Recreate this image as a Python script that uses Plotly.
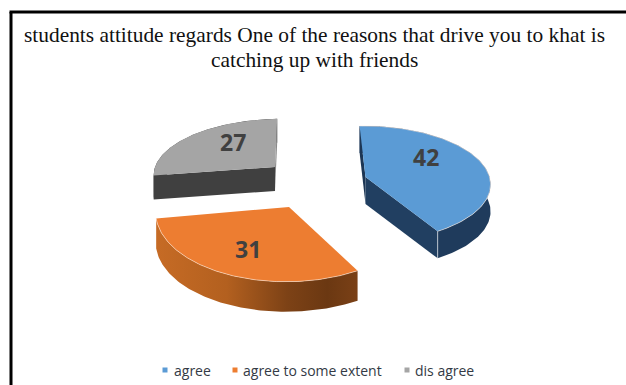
import numpy as np
import plotly.graph_objects as go

title_lines = ["students attitude regards One of the reasons that drive you to khat is",
               "catching up with friends"]
categories = ["agree", "agree to some extent", "dis agree"]
values = [42, 31, 27]
colors = ["#5b9bd5", "#ed7d31", "#a5a5a5"]

START_DEG = -2
# projection of each exploded slice onto the page
views = [
    dict(cx=365.5, cy=177, a=124, k=57, p=0.115, skew=2, d=27, wall="#1f3b5c", cut_end="#213f61", cut_start="#1d3654"),
    dict(cx=289, cy=207, a=133, k=71, p=0.05, skew=-3, d=30, wall=None, cut_end=None, cut_start=None),
    dict(cx=275, cy=167, a=120, k=53, p=0.1, skew=-6, d=24, wall="#404040", cut_end="#8a8a8a", cut_start="#404040"),
]
label_pos = [(426, 157), (248, 249), (233, 142)]
legend_marker_x = [165, 235, 407]
legend_text_x = [172, 241, 413]
LEGEND_Y = 370


def project(theta, v):
    X, Y = np.sin(theta), -np.cos(theta)
    f = 1 / (1 - v["p"] * Y)
    return v["cx"] + v["a"] * X * f + v["skew"] * Y, v["cy"] + v["k"] * Y * f


def poly(x, y, color, **kw):
    return go.Scatter(x=list(x), y=list(y), mode="lines", fill="toself", fillcolor=color,
                      line=dict(width=0, color=color), hoverinfo="skip", showlegend=False, **kw)


fig = go.Figure()
total = sum(values)
edges = START_DEG + np.cumsum([0] + values) / total * 360

order = [2, 0, 1]
for i in order:
    v = views[i]
    th = np.radians(np.linspace(edges[i], edges[i + 1], 120))
    x, y = project(th, v)
    # outer wall
    wx = np.r_[x, x[::-1]]
    wy = np.r_[y, y[::-1] + v["d"]]
    if v["wall"]:
        fig.add_trace(poly(wx, wy, v["wall"]))
    else:
        fig.add_trace(go.Scatter(x=list(wx), y=list(wy), mode="lines", fill="toself",
                                 line=dict(width=0), hoverinfo="skip", showlegend=False,
                                 fillgradient=dict(type="horizontal", colorscale=[
                                     [0, "#c66b25"], [0.35, "#b3601f"], [0.65, "#7d4216"],
                                     [0.85, "#6b3812"], [1, "#7a4016"]])))
    # flat cut faces
    if v["cut_start"]:
        fig.add_trace(poly([v["cx"], x[0], x[0], v["cx"]],
                           [v["cy"], y[0], y[0] + v["d"], v["cy"] + v["d"]], v["cut_start"]))
    if v["cut_end"]:
        fig.add_trace(poly([v["cx"], x[-1], x[-1], v["cx"]],
                           [v["cy"], y[-1], y[-1] + v["d"], v["cy"] + v["d"]], v["cut_end"]))
    # top face
    fig.add_trace(poly(np.r_[v["cx"], x], np.r_[v["cy"], y], colors[i]))
    # highlight along the front rim
    if i != 2:
        fig.add_trace(go.Scatter(x=list(x), y=list(y), mode="lines", hoverinfo="skip", showlegend=False,
                                 line=dict(width=1, color="rgba(255,235,220,0.55)")))
    if i == 0:
        fig.add_trace(go.Scatter(x=[x[-1], x[-1]], y=[y[-1], y[-1] + v["d"]], mode="lines", hoverinfo="skip",
                                 showlegend=False, line=dict(width=1, color="rgba(255,255,255,0.6)")))

# value labels
for val, (lx, ly) in zip(values, label_pos):
    fig.add_annotation(x=lx, y=ly, text=str(val), showarrow=False,
                       font=dict(family="Open Sans", size=23, color="#404040", weight="bold"))

# legend
fig.add_trace(go.Scatter(x=legend_marker_x, y=[LEGEND_Y] * 3, mode="markers", hoverinfo="skip", showlegend=False,
                         marker=dict(symbol="square", size=5, color=colors)))
for name, tx in zip(categories, legend_text_x):
    fig.add_annotation(x=tx, y=LEGEND_Y, text=name, showarrow=False, xanchor="left",
                       font=dict(family="Open Sans", size=14, color="#333a45"))

# title
for line, ty in zip(title_lines, [35, 60]):
    fig.add_annotation(x=314.5, y=ty, text=line, showarrow=False,
                       font=dict(family="Liberation Serif", size=21.4, color="#111111"))

fig.update_layout(
    width=626, height=385, margin=dict(l=0, r=0, t=0, b=0),
    paper_bgcolor="white", plot_bgcolor="white", showlegend=False,
    xaxis=dict(range=[0, 626], visible=False, fixedrange=True),
    yaxis=dict(range=[385, 0], visible=False, fixedrange=True),
    shapes=[
        dict(type="line", x0=11, x1=11, y0=12, y1=385, line=dict(color="black", width=3)),
        dict(type="line", x0=9.5, x1=626, y0=12, y1=12, line=dict(color="black", width=3)),
    ],
)
fig.write_html("out.html", config={"displayModeBar": False},
               post_script="document.body.style.margin='0';document.documentElement.style.overflow='hidden';")
